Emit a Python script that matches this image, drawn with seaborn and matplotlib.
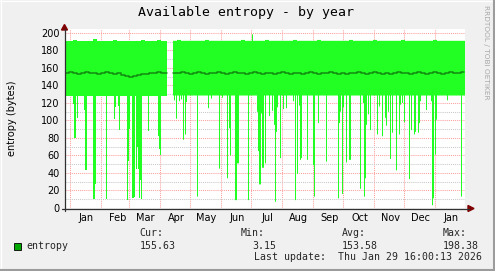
import numpy as np
import pandas as pd
import matplotlib
matplotlib.use("Agg")
import matplotlib.pyplot as plt
import matplotlib.dates as mdates
import seaborn as sns
from matplotlib.lines import Line2D
from matplotlib.patches import Polygon, Rectangle

# ---------------- data ----------------
start_date = "2024-12-27"
n_days = 400
gap_days = [103, 104, 105, 106, 107]
min_base = 128.5

spike_days = [8, 9, 10, 12, 19, 20, 21, 28, 29, 30, 41,
              49, 50, 53, 54, 62, 63, 64, 67, 68, 69, 71, 72, 73, 74, 75, 76, 83, 93, 94, 95,
              109, 111, 114, 116, 118, 120, 121, 132, 143, 146,
              154, 157, 162, 164, 165, 170, 171, 172, 173, 183, 192, 193, 194, 195, 196, 197,
              198, 200, 204, 207, 209, 210, 211, 212, 215, 218, 221, 228, 230, 232, 234, 235, 236, 242, 248,
              249, 253, 261, 273, 274, 275, 277, 278, 281, 284, 285, 295, 298,
              299, 300, 301, 303, 305, 312, 314, 317, 320, 321, 323, 325, 327, 331, 334, 335, 337, 339, 344, 346,
              349, 350, 353, 354, 355, 361, 366, 367, 368, 370, 371, 382, 396]
spike_vals = [119, 80, 80, 103, 112, 43, 43, 10, 10, 27, 10,
              102, 115, 117, 89, 9, 54, 90, 11, 11, 12, 45, 70, 45, 11, 32, 10, 88, 82, 67, 61,
              123, 102, 122, 124, 78, 84, 121, 13, 114, 125,
              45, 126, 34, 91, 60, 9, 9, 51, 51, 9, 110, 65, 27, 27, 108, 46,
              46, 51, 105, 111, 95, 7, 87, 115, 57, 113, 114, 122, 9, 39, 117, 55, 57, 55, 49,
              13, 97, 53, 11, 97, 110, 16, 115, 52, 55, 55, 22, 120,
              13, 34, 95, 107, 89, 84, 116, 82, 103, 94, 110, 56, 86, 43, 84, 118, 120, 98, 33, 89,
              84, 87, 86, 97, 122, 112, 122, 3.15, 11, 61, 101, 123, 13]

# average, one value per 4 days
avg_4day = [154, 155, 154, 153, 154, 155, 154, 154, 153, 154,
            155, 154, 153, 154, 152, 151, 150, 151, 152, 153,
            153, 154, 154, 155, 154, 154, 153, 154, 154, 155,
            154, 153, 154, 155, 154, 153, 154, 154, 155, 154,
            153, 154, 155, 154, 154, 153, 154, 155, 154, 153,
            154, 154, 153, 154, 155, 154, 153, 154, 154, 153,
            154, 155, 154, 153, 154, 154, 155, 154, 153, 154,
            153, 154, 154, 155, 154, 153, 154, 155, 154, 153,
            154, 153, 154, 155, 154, 154, 153, 154, 155, 154,
            153, 154, 155, 154, 153, 154, 155, 154, 154, 155.6]
# maximum, one value per 4 days
max_4day = [191, 191, 192, 191, 191, 191, 191, 193, 191, 191,
            191, 191, 192, 191, 191, 191, 191, 191, 191, 192,
            191, 191, 191, 192, 191, 191, 191, 191, 192, 191,
            191, 191, 191, 191, 191, 192, 191, 191, 191, 191,
            191, 191, 191, 191, 192, 191, 191, 191, 191, 191,
            192, 191, 191, 191, 191, 191, 191, 192, 191, 191,
            191, 191, 191, 192, 191, 191, 191, 191, 191, 191,
            191, 192, 191, 191, 191, 191, 191, 192, 191, 191,
            191, 191, 191, 191, 192, 191, 191, 191, 191, 191,
            191, 191, 192, 191, 191, 191, 191, 191, 191, 191]
max_peak_day = 187
max_peak_val = 198.38

month_labels = ["Jan", "Feb", "Mar", "Apr", "May", "Jun", "Jul",
                "Aug", "Sep", "Oct", "Nov", "Dec", "Jan"]
y_ticks = [0, 20, 40, 60, 80, 100, 120, 140, 160, 180, 200]

title = "Available entropy - by year"
ylabel = "entropy (bytes)"
series_name = "entropy"
stat_names = ["Cur:", "Min:", "Avg:", "Max:"]
stat_values = ["155.63", "3.15", "153.58", "198.38"]
last_update = "Last update:  Thu Jan 29 16:00:13 2026"
watermark = "RRDTOOL / TOBI OETIKER"

# ---------------- build series ----------------
dates = pd.date_range(start_date, periods=n_days, freq="D")
mins = np.full(n_days, min_base)
for d, v in zip(spike_days, spike_vals):
    mins[d] = v
avgs = np.repeat(np.array(avg_4day, dtype=float), 4)
maxs = np.repeat(np.array(max_4day, dtype=float), 4)
maxs[max_peak_day] = max_peak_val
for g in gap_days:
    mins[g] = np.nan
    avgs[g] = np.nan
    maxs[g] = np.nan

segment = np.where(np.arange(n_days) < gap_days[0], 0, 1)
df = pd.DataFrame({"date": dates, "avg": avgs, "seg": segment})
df = df.dropna()

xnum = mdates.date2num(dates)
x_edges = np.append(xnum, xnum[-1] + 1)
mins_e = np.append(mins, mins[-1])
maxs_e = np.append(maxs, maxs[-1])

# ---------------- figure ----------------
sns.set_style("white")
plt.rcParams["font.family"] = ["DejaVu Sans"]

W, H = 495, 271
BG = "#f0f0f0"
fig = plt.figure(figsize=(W / 100, H / 100), dpi=100, facecolor=BG)

def fx(px):
    return px / W

def fy(py):
    return 1 - py / H

ax_left, ax_right, ax_top, ax_bot = 65, 465, 29, 208
ax = fig.add_axes([fx(ax_left), fy(ax_bot), (ax_right - ax_left) / W, (ax_bot - ax_top) / H])
ax.set_facecolor("white")

ax.fill_between(x_edges, mins_e, maxs_e, step="post", color="#22ff22", linewidth=0, zorder=2)
sns.lineplot(data=df.assign(d=mdates.date2num(df["date"])), x="d", y="avg", units="seg",
             estimator=None, ax=ax, color="#128a12", linewidth=1.1, drawstyle="steps-post",
             legend=False, zorder=3)

x0 = xnum[0]
ax.set_xlim(x0, x0 + n_days)
ax.set_ylim(0, 204.5)

# y grid
ax.set_yticks(y_ticks)
ax.set_yticks(np.arange(0, 201, 10), minor=True)
ax.set_yticklabels([str(t) for t in y_ticks], fontsize=7, color="black")

# x grid: month starts (major), labels mid-month (minor)
month_starts = pd.date_range("2025-01-01", periods=13, freq="MS")
ax.set_xticks(mdates.date2num(month_starts))
ax.set_xticklabels([])
label_pos = mdates.date2num(month_starts) + 16.5
ax.set_xticks(label_pos, minor=True)
ax.set_xticklabels(month_labels, minor=True, fontsize=7, color="black")

dot = (0, (1, 1))
ax.grid(which="major", axis="both", color="#ff9e9e", linestyle=dot, linewidth=0.75, zorder=1)
ax.grid(which="minor", axis="y", color="#c8c8c8", linestyle=dot, linewidth=0.75, zorder=1)
ax.grid(which="minor", axis="x", visible=False)
ax.set_axisbelow(True)

ax.tick_params(axis="y", which="both", length=0, pad=3.8)
ax.tick_params(axis="x", which="major", length=0)
ax.tick_params(axis="x", which="minor", length=0, pad=3.5)
ax.set_xlabel("")
ax.set_ylabel("")
for s in ax.spines.values():
    s.set_visible(False)

# axes lines and arrows
axis_col = "#303030"
arrow_col = "#7f0000"
fig.add_artist(Line2D([fx(62), fx(469)], [fy(208.5), fy(208.5)], color=axis_col, lw=0.9))
fig.add_artist(Line2D([fx(64.5), fx(64.5)], [fy(211), fy(29)], color=axis_col, lw=0.9))
fig.add_artist(Polygon([[fx(468), fy(205.5)], [fx(474), fy(208.5)], [fx(468), fy(211.5)]],
                       closed=True, color=arrow_col, transform=fig.transFigure))
fig.add_artist(Polygon([[fx(61.5), fy(30)], [fx(64.5), fy(24.5)], [fx(67.5), fy(30)]],
                       closed=True, color=arrow_col, transform=fig.transFigure))

# texts
mono = "DejaVu Sans Mono"
fig.text(fx(246.5), fy(12.5), title, family=mono, fontsize=9.5, ha="center", va="center", color="black")
fig.text(fx(12), fy(118.5), ylabel, fontsize=7, rotation=90, ha="center", va="center", color="black")
fig.text(fx(486), fy(5), watermark, fontsize=5.3, rotation=270, ha="center", va="top", color="#a8a8a8")

# legend
fig.add_artist(Rectangle((fx(13.5), fy(250)), 7 / W, 7 / H, transform=fig.transFigure,
                         facecolor="#00a800", edgecolor="black", linewidth=0.6))
fig.text(fx(26.5), fy(246.3), series_name, family=mono, fontsize=7.1, ha="left", va="center")
label_x = [139.3, 241, 341.7, 442.3]
value_right = [175.5, 276.3, 377.3, 478.5]
for lx, vr, nm, val in zip(label_x, value_right, stat_names, stat_values):
    fig.text(fx(lx), fy(233.5), nm, family=mono, fontsize=7.1, ha="left", va="center")
    fig.text(fx(vr), fy(245.8), val, family=mono, fontsize=7.1, ha="right", va="center")
fig.text(fx(482), fy(257.3), last_update, family=mono, fontsize=7.1, ha="right", va="center")

# frame shading
fig.add_artist(Line2D([0, 1], [fy(0.5), fy(0.5)], color="#ffffff", lw=1))
fig.add_artist(Line2D([fx(0.5), fx(0.5)], [0, 1], color="#ffffff", lw=1))
fig.add_artist(Line2D([fx(493.5), fx(493.5)], [0, 1], color="#9c9c9c", lw=1.5))
fig.add_artist(Line2D([0, 1], [fy(270), fy(270)], color="#9c9c9c", lw=1.5))

fig.savefig("out.png", dpi=100, facecolor=BG)
